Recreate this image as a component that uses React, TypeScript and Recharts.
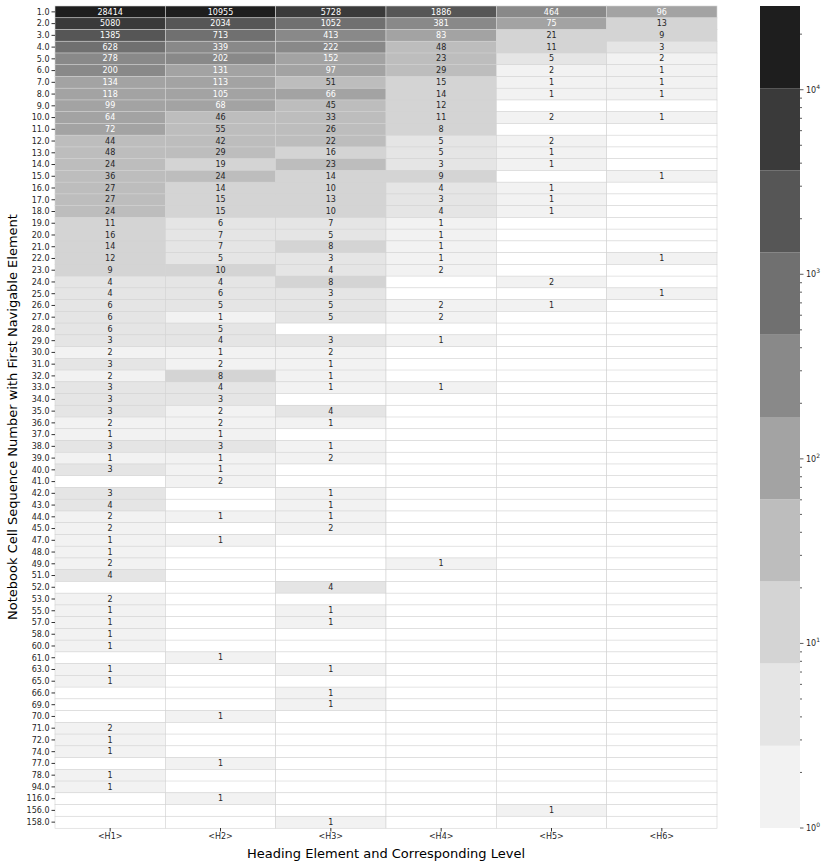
import { BarChart, Bar, XAxis, YAxis, Label } from "recharts";

const _ = null;

// notebook cell sequence number (row labels)
const rowLabels = [
  "1.0", "2.0", "3.0", "4.0", "5.0", "6.0", "7.0", "8.0", "9.0", "10.0",
  "11.0", "12.0", "13.0", "14.0", "15.0", "16.0", "17.0", "18.0", "19.0", "20.0",
  "21.0", "22.0", "23.0", "24.0", "25.0", "26.0", "27.0", "28.0", "29.0", "30.0",
  "31.0", "32.0", "33.0", "34.0", "35.0", "36.0", "37.0", "38.0", "39.0", "40.0",
  "41.0", "42.0", "43.0", "44.0", "45.0", "47.0", "48.0", "49.0", "51.0", "52.0",
  "53.0", "55.0", "57.0", "58.0", "60.0", "61.0", "63.0", "65.0", "66.0", "69.0",
  "70.0", "71.0", "72.0", "74.0", "77.0", "78.0", "94.0", "116.0", "156.0", "158.0",
];

const headings = ["<H1>", "<H2>", "<H3>", "<H4>", "<H5>", "<H6>"];

const h1Counts = [
  28414, 5080, 1385, 628, 278, 200, 134, 118, 99, 64,
  72, 44, 48, 24, 36, 27, 27, 24, 11, 16,
  14, 12, 9, 4, 4, 6, 6, 6, 3, 2,
  3, 2, 3, 3, 3, 2, 1, 3, 1, 3,
  _, 3, 4, 2, 2, 1, 1, 2, 4, _,
  2, 1, 1, 1, 1, _, 1, 1, _, _,
  _, 2, 1, 1, _, 1, 1, _, _, _,
];
const h2Counts = [
  10955, 2034, 713, 339, 202, 131, 113, 105, 68, 46,
  55, 42, 29, 19, 24, 14, 15, 15, 6, 7,
  7, 5, 10, 4, 6, 5, 1, 5, 4, 1,
  2, 8, 4, 3, 2, 2, 1, 3, 1, 1,
  2, _, _, 1, _, 1, _, _, _, _,
  _, _, _, _, _, 1, _, _, _, _,
  1, _, _, _, 1, _, _, 1, _, _,
];
const h3Counts = [
  5728, 1052, 413, 222, 152, 97, 51, 66, 45, 33,
  26, 22, 16, 23, 14, 10, 13, 10, 7, 5,
  8, 3, 4, 8, 3, 5, 5, _, 3, 2,
  1, 1, 1, _, 4, 1, _, 1, 2, _,
  _, 1, 1, 1, 2, _, _, _, _, 4,
  _, 1, 1, _, _, _, 1, _, 1, 1,
  _, _, _, _, _, _, _, _, _, 1,
];
const h4Counts = [
  1886, 381, 83, 48, 23, 29, 15, 14, 12, 11,
  8, 5, 5, 3, 9, 4, 3, 4, 1, 1,
  1, 1, 2, _, _, 2, 2, _, 1, _,
  _, _, 1, _, _, _, _, _, _, _,
  _, _, _, _, _, _, _, 1, _, _,
  _, _, _, _, _, _, _, _, _, _,
  _, _, _, _, _, _, _, _, _, _,
];
const h5Counts = [
  464, 75, 21, 11, 5, 2, 1, 1, _, 2,
  _, 2, 1, 1, _, 1, 1, 1, _, _,
  _, _, _, 2, _, 1, _, _, _, _,
  _, _, _, _, _, _, _, _, _, _,
  _, _, _, _, _, _, _, _, _, _,
  _, _, _, _, _, _, _, _, _, _,
  _, _, _, _, _, _, _, _, 1, _,
];
const h6Counts = [
  96, 13, 9, 3, 2, 1, 1, 1, _, 1,
  _, _, _, _, 1, _, _, _, _, _,
  _, 1, _, _, 1, _, _, _, _, _,
  _, _, _, _, _, _, _, _, _, _,
  _, _, _, _, _, _, _, _, _, _,
  _, _, _, _, _, _, _, _, _, _,
  _, _, _, _, _, _, _, _, _, _,
];

// discrete grey colormap, light -> dark
const binColors = [
  "#f2f2f2", "#e5e5e5", "#d4d4d4", "#bdbdbd", "#a3a3a3",
  "#898989", "#707070", "#565656", "#3a3a3a", "#1e1e1e",
];
const maxCount = 28414;

const columns = [h1Counts, h2Counts, h3Counts, h4Counts, h5Counts, h6Counts];
const logMax = Math.log10(maxCount);
const binWidth = logMax / binColors.length;

const binOf = (v: number) =>
  Math.min(binColors.length - 1, Math.floor(Math.log10(v) / binWidth));

const tableData = rowLabels.map((row, i) => {
  const r: any = { row };
  columns.forEach((col, j) => {
    r["c" + j] = col[i];
  });
  return r;
});

const FONT = "DejaVu Sans, Verdana, sans-serif";
const TEXT = "#262626";

const makeCell = (j: number) => (props: any) => {
  const { x, y, width, height, payload } = props;
  const v = payload["c" + j];
  const has = v !== null && v !== undefined;
  const bin = has ? binOf(v) : -1;
  return (
    <g>
      <rect
        x={x}
        y={y}
        width={width}
        height={height}
        fill={has ? binColors[bin] : "#ffffff"}
        stroke="#d3d3d3"
        strokeWidth={0.6}
      />
      {has && (
        <text
          x={x + width / 2}
          y={y + height / 2}
          textAnchor="middle"
          dominantBaseline="central"
          fontSize={8}
          fontFamily={FONT}
          fill={bin >= 4 ? "#ffffff" : TEXT}
        >
          {v}
        </text>
      )}
    </g>
  );
};

// colorbar ticks (log scale, majors + minors)
const cbTicks: number[] = [];
for (let n = 0; n <= 4; n++) {
  for (let k = 1; k <= 9; k++) {
    const t = n + Math.log10(k);
    if (t <= logMax) cbTicks.push(t);
  }
}

const CbTick = (props: any) => {
  const { x, y, payload } = props;
  const v = payload.value;
  const major = Math.abs(v - Math.round(v)) < 1e-6;
  return (
    <g>
      <line x1={x} x2={x + (major ? 3.5 : 2)} y1={y} y2={y} stroke="#333" strokeWidth={0.8} />
      {major && (
        <text x={x + 6} y={y + 3} fontSize={8} fontFamily={FONT} fill={TEXT}>
          10
          <tspan fontSize={6} dy={-4}>
            {Math.round(v)}
          </tspan>
        </text>
      )}
    </g>
  );
};

export default function App() {
  return (
    <div style={{ position: "absolute", left: 0, top: 0, width: 830, height: 867, background: "#fff" }}>
      <div style={{ position: "absolute", left: 0, top: 0 }}>
        <BarChart
          width={740}
          height={867}
          data={tableData}
          layout="vertical"
          barCategoryGap={0}
          barGap={0}
          margin={{ top: 6, right: 23, bottom: 0, left: 0 }}
        >
          <XAxis
            type="number"
            domain={[0, headings.length]}
            ticks={headings.map((_h, j) => j + 0.5)}
            tickFormatter={(v: number) => headings[Math.floor(v)]}
            height={39}
            axisLine={false}
            tickSize={3.5}
            tickLine={{ stroke: "#333" }}
            tick={{ fontSize: 8, fill: TEXT, fontFamily: FONT }}
          >
            <Label
              value="Heading Element and Corresponding Level"
              position="insideBottom"
              offset={9}
              style={{ fontSize: 13, fill: "#000", fontFamily: FONT }}
            />
          </XAxis>
          <YAxis
            type="category"
            dataKey="row"
            width={55}
            interval={0}
            axisLine={false}
            tickSize={3.5}
            tickLine={{ stroke: "#333" }}
            tick={{ fontSize: 8, fill: TEXT, fontFamily: FONT }}
          >
            <Label
              value="Notebook Cell Sequence Number with First Navigable Element"
              angle={-90}
              position="insideLeft"
              offset={12}
              style={{ fontSize: 13, fill: "#000", fontFamily: FONT, textAnchor: "middle" }}
            />
          </YAxis>
          {headings.map((h, j) => (
            <Bar
              key={h}
              dataKey={() => 1}
              stackId="cells"
              isAnimationActive={false}
              shape={makeCell(j)}
            />
          ))}
        </BarChart>
      </div>
      <div style={{ position: "absolute", left: 752, top: 0 }}>
        <BarChart
          width={78}
          height={867}
          data={[{ name: "cb" }]}
          barCategoryGap={0}
          margin={{ top: 6, right: 0, bottom: 39, left: 8 }}
        >
          <XAxis dataKey="name" hide />
          <YAxis
            type="number"
            orientation="right"
            domain={[0, logMax]}
            ticks={cbTicks}
            interval={0}
            width={30}
            axisLine={false}
            tickLine={false}
            tickSize={0}
            tickMargin={0}
            tick={<CbTick />}
          />
          {binColors.map((c, i) => (
            <Bar key={c + i} dataKey={() => binWidth} stackId="cb" fill={c} isAnimationActive={false} />
          ))}
        </BarChart>
      </div>
    </div>
  );
}
